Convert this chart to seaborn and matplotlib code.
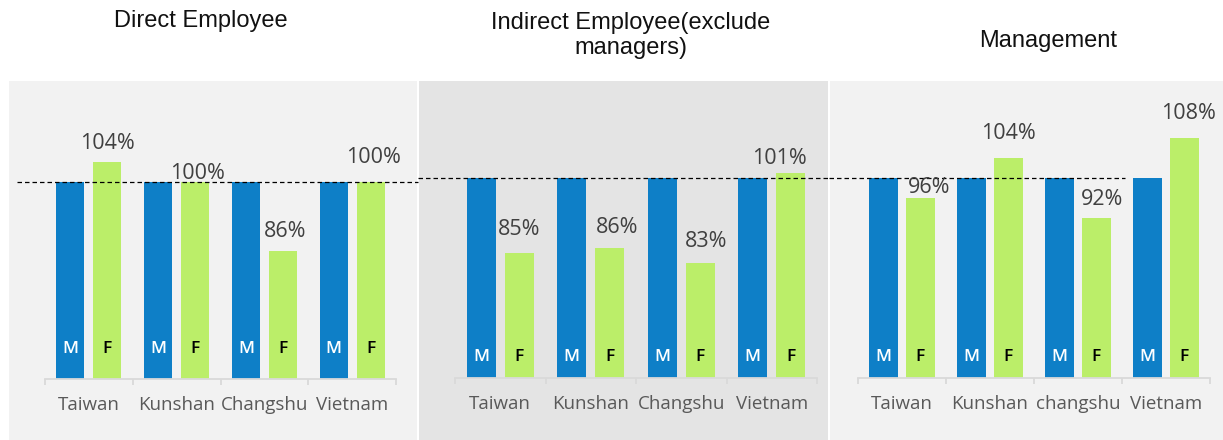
import numpy as np
import pandas as pd
import matplotlib
matplotlib.use("Agg")
import matplotlib.pyplot as plt
import seaborn as sns
from matplotlib.patches import Rectangle

# ---- data -------------------------------------------------------------
sites_direct = ["Taiwan", "Kunshan", "Changshu", "Vietnam"]
sites_indirect = ["Taiwan", "Kunshan", "Changshu", "Vietnam"]
sites_mgmt = ["Taiwan", "Kunshan", "changshu", "Vietnam"]

male_direct = [100, 100, 100, 100]
female_direct = [104, 100, 86, 100]
male_indirect = [100, 100, 100, 100]
female_indirect = [85, 86, 83, 101]
male_mgmt = [100, 100, 100, 100]
female_mgmt = [96, 104, 92, 108]

titles = ["Direct Employee", "Indirect Employee(exclude\nmanagers)", "Management"]
sex_labels = ["M", "F"]

# ---- style ------------------------------------------------------------
BLUE = "#0E7FC7"
GREEN = "#BBEE69"
AXIS_GREY = "#D9D9D9"

sns.set_theme(style="white")
plt.rcParams["font.family"] = ["Open Sans", "DejaVu Sans"]

W, H = 1223, 440
fig = plt.figure(figsize=(W / 100, H / 100), dpi=100)
fig.patch.set_facecolor("white")


def fx(px):
    return px / W


def fy(py):
    return 1 - py / H


# panel backgrounds (left, right, colour)
backgrounds = [(9, 417, "#F2F2F2"), (419, 828, "#E4E4E4"), (830, 1223, "#F2F2F2")]
for x0, x1, col in backgrounds:
    fig.add_artist(Rectangle((fx(x0), 0), fx(x1) - fx(x0), fy(81),
                             transform=fig.transFigure, facecolor=col,
                             edgecolor="none", zorder=0))

YMIN, YMAX = 60, 115

panels = [
    dict(sites=sites_direct, male=male_direct, female=female_direct,
         x0=45, x1=396, base=379, scale=4.925, lift=30, ref=(17, 418),
         offs=[(0, 13), (2, 3), (2, 14), (3, 19)]),
    dict(sites=sites_indirect, male=male_indirect, female=female_indirect,
         x0=455, x1=817, base=378, scale=5.0, lift=21, ref=(418, 829),
         offs=[(0, 18), (7, 15), (6, 16), (-11, 9)]),
    dict(sites=sites_mgmt, male=male_mgmt, female=female_mgmt,
         x0=858, x1=1210, base=378, scale=5.0, lift=21, ref=(829, 1125),
         offs=[(9, 5), (0, 19), (6, 13), (4, 19)]),
]

for p in panels:
    top = p["base"] - (YMAX - YMIN) * p["scale"]
    ax = fig.add_axes([fx(p["x0"]), fy(p["base"]),
                       fx(p["x1"]) - fx(p["x0"]), (p["base"] - top) / H])
    ax.set_facecolor("none")

    df = pd.DataFrame({
        "site": p["sites"] * 2,
        "sex": [sex_labels[0]] * len(p["sites"]) + [sex_labels[1]] * len(p["sites"]),
        "ratio": p["male"] + p["female"],
    })
    sns.barplot(data=df, x="site", y="ratio", hue="sex", hue_order=sex_labels,
                palette={"M": BLUE, "F": GREEN}, saturation=1,
                width=0.84, gap=0.24, errorbar=None, legend=False, ax=ax,
                linewidth=0, zorder=2)

    ax.set_ylim(YMIN, YMAX)
    ax.set_xlim(-0.5, len(p["sites"]) - 0.5)

    # 100% reference line running across the panel
    xmin = (p["ref"][0] - p["x0"]) / (p["x1"] - p["x0"])
    xmax = (p["ref"][1] - p["x0"]) / (p["x1"] - p["x0"])
    ax.axhline(100, xmin=xmin, xmax=xmax, color="black", lw=0.9,
               ls=(0, (3.6, 2.4)), clip_on=False, zorder=4)

    # value labels on female bars
    for bar, val, (dx, dy) in zip(ax.containers[1], p["female"], p["offs"]):
        xc = bar.get_x() + bar.get_width() / 2
        ax.annotate(f"{val}%", xy=(xc, val), xytext=(dx, dy),
                    textcoords="offset pixels", ha="center", va="baseline",
                    fontsize=15.5, color="#404040", annotation_clip=False,
                    zorder=5)

    # M / F letters inside the bars
    for cont, letter, col in zip(ax.containers, sex_labels, ["white", "black"]):
        for bar in cont:
            xc = bar.get_x() + bar.get_width() / 2
            ax.annotate(letter, xy=(xc, YMIN), xytext=(0, p["lift"]),
                        textcoords="offset pixels", ha="center", va="center",
                        fontsize=12.5, fontweight="semibold", color=col,
                        annotation_clip=False, zorder=5)

    # axes styling
    ax.set_xlabel("")
    ax.set_ylabel("")
    ax.set_yticks([])
    for side in ["left", "right", "top"]:
        ax.spines[side].set_visible(False)
    ax.spines["bottom"].set_color(AXIS_GREY)
    ax.spines["bottom"].set_linewidth(1.3)
    ax.set_xticks(range(len(p["sites"])))
    ax.set_xticklabels(p["sites"])
    ax.set_xticks(np.arange(-0.5, len(p["sites"]), 1.0), minor=True)
    ax.tick_params(axis="x", which="major", length=0, pad=12,
                   labelsize=13.5, labelcolor="#595959")
    ax.tick_params(axis="x", which="minor", length=4.5, width=1.3,
                   color=AXIS_GREY, direction="out", bottom=True)

# panel titles
title_pos = [(201, 10), (631, 12), (1048, 30)]
for t, (tx, ty) in zip(titles, title_pos):
    fig.text(fx(tx), fy(ty), t, ha="center", va="top", fontsize=17,
             family=["Liberation Sans", "DejaVu Sans"], color="#111111",
             linespacing=1.15, multialignment="center")

fig.savefig("out.png", dpi=100, facecolor="white")
